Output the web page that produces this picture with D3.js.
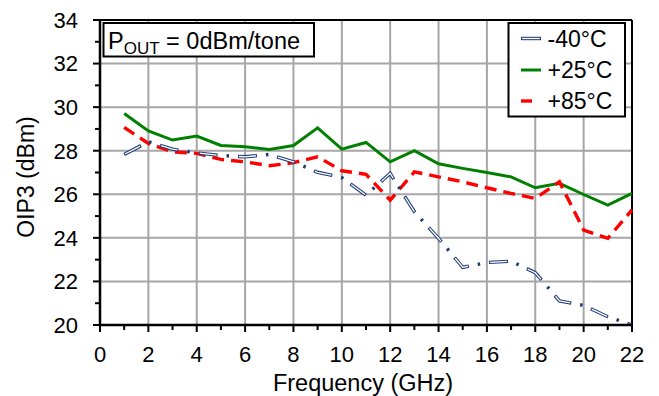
<!DOCTYPE html>
<html>
<head>
<meta charset="utf-8">
<script src="https://cdn.jsdelivr.net/npm/d3@7"></script>
<style>
  html, body { margin: 0; padding: 0; background: #fff; }
  svg { display: block; }
  text { font-family: "Liberation Sans", Arial, sans-serif; fill: #000; }
</style>
</head>
<body>
<script>
// ---- data ----
const freqs = [1,2,3,4,5,6,7,8,9,10,11,12,13,14,15,16,17,18,19,20,21,22];
const oip3_m40 = [27.83,28.41,28.07,27.90,27.78,27.72,27.83,27.49,27.01,26.77,25.96,26.96,25.20,23.98,22.65,22.87,22.93,22.40,21.11,20.90,20.38,20.00];
const oip3_p25 = [29.71,28.91,28.49,28.67,28.24,28.18,28.06,28.24,29.05,28.07,28.38,27.49,28.00,27.40,27.19,27.00,26.80,26.30,26.50,25.99,25.50,26.04];
const oip3_p85 = [29.07,28.33,27.95,27.88,27.60,27.49,27.31,27.45,27.72,27.08,26.92,25.73,27.03,26.80,26.57,26.30,26.04,25.81,26.57,24.36,23.98,25.28];
const seriesNames = ["-40°C", "+25°C", "+85°C"];
const xTicks = [0,2,4,6,8,10,12,14,16,18,20,22];
const yTicks = [20,22,24,26,28,30,32,34];
const xLabel = "Frequency (GHz)";
const yLabel = "OIP3 (dBm)";

// ---- layout ----
const W = 659, H = 396;
const L = 100, R = 632, T = 20, B = 325;

const svg = d3.select("body").append("svg").attr("width", W).attr("height", H);

const x = d3.scaleLinear().domain([0, 22]).range([L, R]);
const y = d3.scaleLinear().domain([20, 34]).range([B, T]);

// gridlines
const grid = svg.append("g");
grid.selectAll(".vg").data(xTicks.filter(d => d > 0 && d < 22)).join("line")
  .attr("x1", d => x(d)).attr("x2", d => x(d)).attr("y1", T).attr("y2", B)
  .attr("stroke", "#a6a6a6").attr("stroke-width", 2);
grid.selectAll(".hg").data(yTicks.filter(d => d > 20 && d < 34)).join("line")
  .attr("y1", d => y(d)).attr("y2", d => y(d)).attr("x1", L).attr("x2", R)
  .attr("stroke", "#a6a6a6").attr("stroke-width", 2);

// top and right borders
svg.append("line").attr("x1", L).attr("x2", R).attr("y1", T).attr("y2", T).attr("stroke", "#000").attr("stroke-width", 2);
svg.append("line").attr("x1", R).attr("x2", R).attr("y1", T).attr("y2", B).attr("stroke", "#000").attr("stroke-width", 2);

// series
const line = d3.line().x((d, i) => x(freqs[i])).y(d => y(d));

// +25 green
svg.append("path").datum(oip3_p25).attr("d", line)
  .attr("fill", "none").attr("stroke", "#008000").attr("stroke-width", 3).attr("stroke-linejoin", "miter");
// +85 red dashed
svg.append("path").datum(oip3_p85).attr("d", line)
  .attr("fill", "none").attr("stroke", "#ff0000").attr("stroke-width", 3.4)
  .attr("stroke-dasharray", "12,7");
// -40 navy double dash-dot
svg.append("path").datum(oip3_m40).attr("d", line)
  .attr("fill", "none").attr("stroke", "#1f3a78").attr("stroke-width", 3.4)
  .attr("stroke-dasharray", "19,9,2.5,9");
svg.append("path").datum(oip3_m40).attr("d", line)
  .attr("fill", "none").attr("stroke", "#fff").attr("stroke-width", 1.3)
  .attr("stroke-dasharray", "17,22.5").attr("stroke-dashoffset", -1);

// axes
const yAxis = svg.append("g");
yAxis.append("line").attr("x1", L).attr("x2", L).attr("y1", T - 1).attr("y2", B + 1)
  .attr("stroke", "#000").attr("stroke-width", 2.5);
const yMinor = d3.range(21, 34, 2);
yAxis.selectAll(".ymt").data(yMinor).join("line")
  .attr("x1", L - 5).attr("x2", L).attr("y1", d => y(d)).attr("y2", d => y(d))
  .attr("stroke", "#000").attr("stroke-width", 2);
yAxis.selectAll(".yt").data(yTicks).join("line")
  .attr("x1", L - 7).attr("x2", L).attr("y1", d => y(d)).attr("y2", d => y(d))
  .attr("stroke", "#000").attr("stroke-width", 2);
yAxis.selectAll(".yl").data(yTicks).join("text")
  .attr("x", 78).attr("y", d => y(d)).attr("dy", "0.36em")
  .attr("text-anchor", "end").attr("font-size", 22).text(d => d);

const xAxis = svg.append("g");
xAxis.append("line").attr("x1", L - 1).attr("x2", R + 1).attr("y1", B).attr("y2", B)
  .attr("stroke", "#000").attr("stroke-width", 2.5);
const xMinor = d3.range(1, 22, 2);
xAxis.selectAll(".xmt").data(xMinor).join("line")
  .attr("x1", d => x(d)).attr("x2", d => x(d)).attr("y1", B).attr("y2", B + 5)
  .attr("stroke", "#000").attr("stroke-width", 2);
xAxis.selectAll(".xt").data(xTicks).join("line")
  .attr("x1", d => x(d)).attr("x2", d => x(d)).attr("y1", B).attr("y2", B + 7)
  .attr("stroke", "#000").attr("stroke-width", 2);
xAxis.selectAll(".xl").data(xTicks).join("text")
  .attr("x", d => x(d)).attr("y", 362)
  .attr("text-anchor", "middle").attr("font-size", 22).text(d => d);

// axis titles
svg.append("text").attr("x", 363).attr("y", 391)
  .attr("text-anchor", "middle").attr("font-size", 23.5).text(xLabel);
svg.append("text").attr("transform", "translate(33.5,177) rotate(-90)")
  .attr("text-anchor", "middle").attr("font-size", 23).text(yLabel);

// annotation box
svg.append("rect").attr("x", 103.5).attr("y", 23).attr("width", 210.5).attr("height", 33.5)
  .attr("fill", "#fff").attr("stroke", "#000").attr("stroke-width", 2);
const ann = svg.append("text").attr("x", 108).attr("y", 48.5).attr("font-size", 23.5);
ann.append("tspan").text("P");
ann.append("tspan").attr("font-size", 17).attr("dy", 5).text("OUT");
ann.append("tspan").attr("dy", -5).text(" = 0dBm/tone");

// legend
const lg = svg.append("g");
lg.append("rect").attr("x", 508.5).attr("y", 23).attr("width", 116.5).attr("height", 93.5)
  .attr("fill", "#fff").attr("stroke", "#000").attr("stroke-width", 2);
const rowsY = [38.5, 70, 101];
// -40 sample (double line)
lg.append("line").attr("x1", 521).attr("x2", 541).attr("y1", rowsY[0]).attr("y2", rowsY[0])
  .attr("stroke", "#1f3a78").attr("stroke-width", 3.4);
lg.append("line").attr("x1", 522).attr("x2", 540).attr("y1", rowsY[0]).attr("y2", rowsY[0])
  .attr("stroke", "#fff").attr("stroke-width", 1.3);
// +25 sample
lg.append("line").attr("x1", 521).attr("x2", 541).attr("y1", rowsY[1]).attr("y2", rowsY[1])
  .attr("stroke", "#008000").attr("stroke-width", 3);
// +85 sample
lg.append("line").attr("x1", 521).attr("x2", 532).attr("y1", rowsY[2]).attr("y2", rowsY[2])
  .attr("stroke", "#ff0000").attr("stroke-width", 3.4);
lg.selectAll(".lt").data(seriesNames).join("text")
  .attr("x", 547.5).attr("y", (d, i) => rowsY[i]).attr("dy", "0.36em")
  .attr("font-size", 23).text(d => d);
</script>
</body>
</html>
